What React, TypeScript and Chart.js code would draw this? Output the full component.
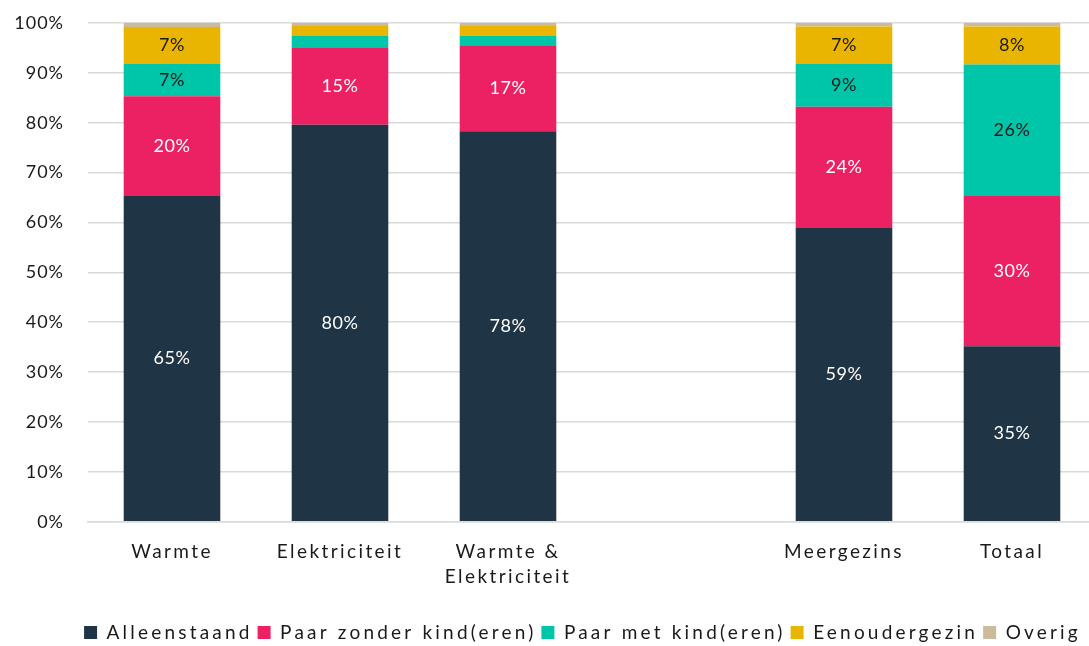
import React, { useEffect, useRef } from "react";
import { Chart, registerables } from "chart.js";

Chart.register(...registerables);

const categories: (string | string[])[] = ["Warmte", "Elektriciteit", ["Warmte &", "Elektriciteit"], "", "Meergezins", "Totaal"];
const alleenstaand = [65.3, 79.6, 78.3, null, 58.9, 35.2];
const paarZonder = [20.0, 15.4, 17.1, null, 24.3, 30.1];
const paarMet = [6.5, 2.4, 2.0, null, 8.7, 26.4];
const eenouder = [7.4, 2.0, 2.0, null, 7.4, 7.6];
const overig = [0.8, 0.6, 0.6, null, 0.7, 0.7];
const yTicks = [0, 10, 20, 30, 40, 50, 60, 70, 80, 90, 100];

const FONT = "Lato, 'Open Sans', sans-serif";
const LEGEND_SP = "3.2px";
const X_SP = "2.4px";
const Y_SP = "1px";
const LABEL_SP = "0.5px";
const LEGEND_SHIFT = 38;
const AREA_EXTEND = 7;

function wrapSpacing(obj: any, method: string, sp: string) {
  if (!obj || obj["__wrapped_" + method]) return;
  const orig = obj[method].bind(obj);
  obj[method] = function (...args: any[]) {
    const ctx = obj.ctx;
    const prev = ctx.letterSpacing;
    ctx.letterSpacing = sp;
    const r = orig(...args);
    ctx.letterSpacing = prev;
    return r;
  };
  obj["__wrapped_" + method] = true;
}

const spacingPlugin = {
  id: "spacing",
  beforeLayout(chart: any) { chart.ctx.letterSpacing = LEGEND_SP; },
  afterLayout(chart: any) {
    if (chart.legend) {
      chart.legend.left += LEGEND_SHIFT;
      chart.legend.right += LEGEND_SHIFT;
    }
    const x = chart.scales.x;
    if (x) {
      x.right += AREA_EXTEND;
      x.width += AREA_EXTEND;
      x.configure();
      chart.chartArea.right += AREA_EXTEND;
      chart.chartArea.width += AREA_EXTEND;
    }
  },
  beforeDraw(chart: any) {
    chart.ctx.letterSpacing = "0px";
    wrapSpacing(chart.scales.x, "drawLabels", X_SP);
    wrapSpacing(chart.scales.y, "drawLabels", Y_SP);
    wrapSpacing(chart.legend, "draw", LEGEND_SP);
  },
};

const labelPlugin = {
  id: "segLabels",
  afterDatasetsDraw(chart: any) {
    const ctx = chart.ctx;
    ctx.save();
    ctx.letterSpacing = LABEL_SP;
    ctx.font = `18px ${FONT}`;
    ctx.textAlign = "center";
    ctx.textBaseline = "middle";
    chart.data.datasets.forEach((ds: any, di: number) => {
      const meta = chart.getDatasetMeta(di);
      meta.data.forEach((el: any, i: number) => {
        const v = ds.data[i];
        if (v == null || v < 5) return;
        ctx.fillStyle = di <= 1 ? "#ffffff" : "#1a1a1a";
        const y = (el.y + el.base) / 2;
        ctx.fillText(Math.round(v) + "%", el.x, y);
      });
    });
    ctx.restore();
  },
};

export default function App() {
  const ref = useRef<HTMLCanvasElement>(null);
  useEffect(() => {
    document.body.style.margin = "0";
    const chart = new Chart(ref.current!, {
      type: "bar",
      data: {
        labels: categories as any,
        datasets: [
          { label: "Alleenstaand", data: alleenstaand, backgroundColor: "#1f3546" },
          { label: "Paar zonder kind(eren)", data: paarZonder, backgroundColor: "#ec2163" },
          { label: "Paar met kind(eren)", data: paarMet, backgroundColor: "#00c6a9" },
          { label: "Eenoudergezin", data: eenouder, backgroundColor: "#e9b500" },
          { label: "Overig", data: overig, backgroundColor: "#cbbb9b" },
        ] as any,
      },
      plugins: [spacingPlugin, labelPlugin],
      options: {
        animation: false,
        responsive: false,
        layout: { padding: { top: 23, right: 0, left: 0, bottom: -6 } },
        datasets: { bar: { barPercentage: 0.575, categoryPercentage: 1 } },
        scales: {
          x: {
            stacked: true,
            grid: { display: false, drawTicks: false },
            border: { color: "#d9d9d9", width: 1.5 },
            afterFit: (s: any) => { s.height += 11; s.paddingLeft = 0; s.paddingRight = 0; },
            ticks: {
              color: "#1a1a1a",
              font: { family: FONT, size: 19, lineHeight: 1.35 },
              maxRotation: 0,
              autoSkip: false,
              padding: 17,
            },
          },
          y: {
            stacked: true,
            min: 0,
            max: 100,
            afterFit: (s: any) => { s.width = 88; s.paddingTop = 0; s.paddingBottom = 0; },
            afterBuildTicks: (axis: any) => { axis.ticks = yTicks.map((v) => ({ value: v })); },
            grid: { color: "#d9d9d9", lineWidth: 1.5, drawTicks: false },
            border: { display: false },
            ticks: {
              color: "#1a1a1a",
              font: { family: FONT, size: 18 },
              padding: 24,
              callback: (v: any) => v + "%",
            },
          },
        },
        plugins: {
          legend: {
            position: "bottom",
            labels: {
              boxWidth: 13,
              boxHeight: 13,
              padding: 5,
              color: "#1a1a1a",
              font: { family: FONT, size: 19 },
            },
          },
          tooltip: { enabled: false },
        },
      } as any,
    });
    return () => chart.destroy();
  }, []);
  return <canvas ref={ref} width={1089} height={646} style={{ display: "block" }} />;
}
